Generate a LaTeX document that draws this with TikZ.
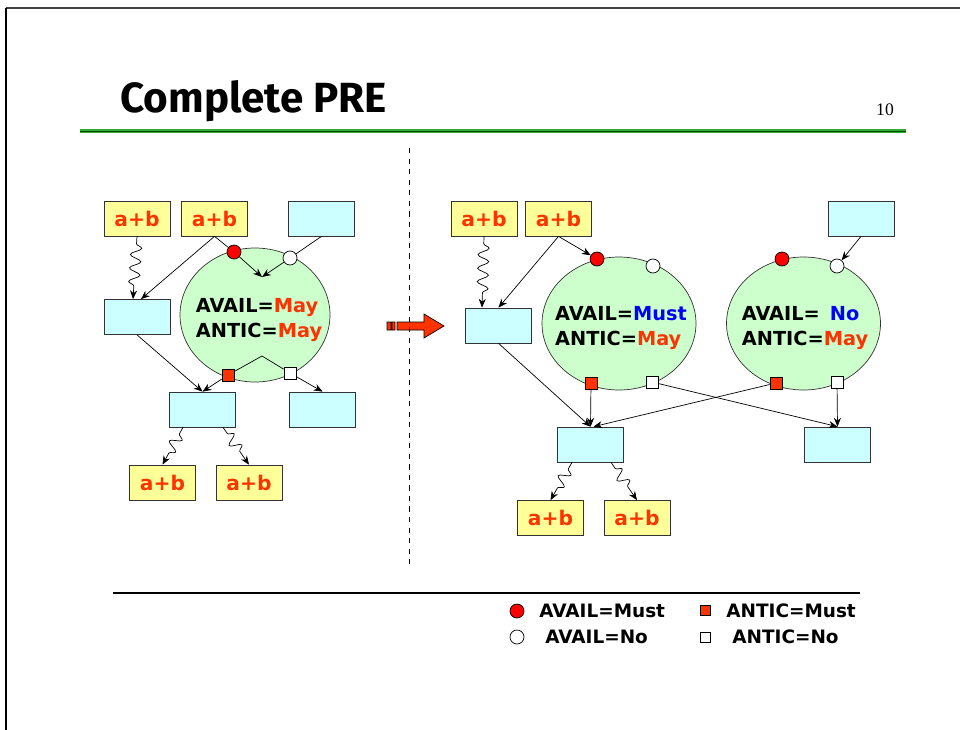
\documentclass[tikz,border=0pt]{standalone}
\usepackage{fontspec}
\setmainfont{DejaVu Sans}
\newfontfamily\titlefont{Fira Sans}
\newfontfamily\numfont{Liberation Serif}
\usetikzlibrary{shapes.geometric,decorations.pathmorphing,arrows.meta}
\definecolor{exprred}{HTML}{FF3300}
\definecolor{boxyellow}{HTML}{FFFF99}
\definecolor{boxcyan}{HTML}{CCFFFF}
\definecolor{blockgreen}{HTML}{CCFFCC}
\definecolor{slidegreen}{HTML}{33AA33}
\def\may{\textcolor{exprred}{May}}
\def\must{\textcolor{blue}{Must}}
\def\no{\textcolor{blue}{No}}
\tikzset{
  expr/.style={draw=black!80,fill=boxyellow,minimum width=1.32cm,minimum height=0.7cm,
    inner sep=0pt,text=exprred,font=\bfseries\fontsize{11.5}{14}\selectfont},
  bb/.style={draw=black!80,fill=boxcyan,minimum width=1.32cm,minimum height=0.7cm,inner sep=0pt},
  region/.style={draw=black!80,ellipse,fill=blockgreen,inner sep=0pt},
  regtext/.style={inner sep=0pt,align=left,font=\bfseries\fontsize{11}{14}\selectfont},
  availmust/.style={draw,circle,fill=red,minimum size=0.28cm,inner sep=0pt},
  availno/.style={draw,circle,fill=white,minimum size=0.28cm,inner sep=0pt},
  anticmust/.style={draw,fill=exprred,minimum size=0.24cm,inner sep=0pt},
  anticno/.style={draw,fill=white,minimum size=0.24cm,inner sep=0pt},
  keytext/.style={anchor=west,inner sep=0pt,font=\bfseries\fontsize{10.5}{13}\selectfont},
  flow/.style={-{Stealth[length=5pt,width=4pt]},thin},
  wavy/.style={flow,decorate,decoration={snake,amplitude=.11cm,segment length=.27cm,
    pre length=.15cm,post length=.25cm}}
}
\begin{document}
\begin{tikzpicture}[x=0.02cm,y=-0.02cm]
\useasboundingbox (0,0) rectangle (960,730);
\draw[black!75,line width=1.2pt] (6,8) -- (960,8);
\draw[line width=1.7pt] (6,8) -- (6,730);
\node[anchor=base west,inner sep=0pt,font=\titlefont\bfseries\fontsize{24}{28}\selectfont] (title) at (120,112) {Complete PRE};
\node[font=\numfont\fontsize{10}{12}\selectfont] (pageno) at (885,110) {10};
\draw[slidegreen,line width=2pt] (80,131) -- (906,131);
\draw[green!30!black,line width=0.5pt] (80,131) -- (906,131);

% before
\node[expr] (la1) at (137,218.5) {a+b};
\node[expr] (la2) at (214.5,218.5) {a+b};
\node[bb] (lb1) at (321.5,218.5) {};
\node[bb] (lb2) at (137,317) {};
\node[region,minimum width=3cm,minimum height=2.68cm] (lreg) at (255,315) {};
\node[regtext] (lregt) at (259,320) {AVAIL=\may\\ANTIC=\may};
\node[bb] (lb3) at (202.5,409.5) {};
\node[bb] (lb4) at (322.5,409.5) {};
\node[expr] (la3) at (162.5,482.5) {a+b};
\node[expr] (la4) at (249,482.5) {a+b};
\coordinate (lin) at (262,277);
\coordinate (lapex) at (262,356);
\node[availmust] (lav1) at (234,252) {};
\node[availno] (lav2) at (290,258) {};
\node[anticmust] (lan1) at (228,375) {};
\node[anticno] (lan2) at (290,373) {};
\draw[wavy] (la1.south) -- ([xshift=-0.08cm]lb2.north);
\draw[flow] (la2.south) -- ([xshift=0.08cm]lb2.north);
\draw (la2.south) -- (lav1);
\draw (lb1.south) -- (lav2);
\draw[flow] (lav1) -- (lin);
\draw[flow] (lav2) -- (lin);
\draw (lan1) -- (lapex) -- (lan2);
\draw[flow] (lb2.south) -- (lb3.north);
\draw[flow] (lan1) -- (lb3.north);
\draw[flow] (lan2) -- (lb4.north);
\draw[wavy] ([xshift=-0.39cm]lb3.south) -- (la3.north);
\draw[wavy] ([xshift=0.41cm]lb3.south) -- (la4.north);

\filldraw[fill=exprred,thin] (387,322) rectangle (391,330) (392,322) rectangle (395,330)
  (397,322) -- (424,322) -- (424,314) -- (444,326) -- (424,338) -- (424,330) -- (397,330) -- cycle;
\draw[dashed,thin] (409,148) -- (409,565);

% after
\node[expr] (ra1) at (484,218.5) {a+b};
\node[expr] (ra2) at (558.5,218.5) {a+b};
\node[bb] (rb1) at (861,218.5) {};
\node[bb] (rb2) at (498.5,325.5) {};
\node[region,minimum width=3.08cm,minimum height=2.66cm] (rreg1) at (619,323.5) {};
\node[regtext] (rregt1) at (621,328) {AVAIL=\must\\ANTIC=\may};
\node[region,minimum width=3.08cm,minimum height=2.66cm] (rreg2) at (803.5,323.5) {};
\node[regtext] (rregt2) at (805,328) {AVAIL= \,\no\\ANTIC=\may};
\node[bb] (rb3) at (590.5,444.5) {};
\node[bb] (rb4) at (837.5,444.5) {};
\node[expr] (ra3) at (550.5,518) {a+b};
\node[expr] (ra4) at (637,518) {a+b};
\node[availmust] (rav1) at (597,259) {};
\node[availno] (rav2) at (653,266) {};
\node[availmust] (rav3) at (782,259) {};
\node[availno] (rav4) at (837,266) {};
\node[anticmust] (ran1) at (591,383) {};
\node[anticno] (ran2) at (652,382) {};
\node[anticmust] (ran3) at (776,383) {};
\node[anticno] (ran4) at (837,382) {};
\draw[wavy] (ra1.south) -- ([xshift=-0.33cm]rb2.north);
\draw[flow] (ra2.south) -- (rb2.north);
\draw[flow] (ra2.south) -- (rav1);
\draw[flow] (rb1.south) -- (rav4);
\draw[flow] (rb2.south) -- (rb3.north);
\draw[flow] (ran1) -- (rb3.north);
\draw[flow] (ran3) -- ([xshift=0.06cm]rb3.north);
\draw[flow] (ran2) -- (rb4.north);
\draw[flow] (ran4) -- (rb4.north);
\draw[wavy] ([xshift=-0.37cm]rb3.south) -- (ra3.north);
\draw[wavy] ([xshift=0.41cm]rb3.south) -- (ra4.north);

% key
\draw[line width=1.1pt] (113,593) -- (860,593);
\node[availmust] (k1) at (517,611) {};
\node[keytext] (k1t) at (539,611) {AVAIL=Must};
\node[anticmust,minimum size=0.2cm] (k2) at (705,610) {};
\node[keytext] (k2t) at (726,611) {ANTIC=Must};
\node[availno] (k3) at (517,637) {};
\node[keytext] (k3t) at (545,637) {AVAIL=No};
\node[anticno,minimum size=0.2cm] (k4) at (705,637) {};
\node[keytext] (k4t) at (732,637) {ANTIC=No};
\end{tikzpicture}
\end{document}
